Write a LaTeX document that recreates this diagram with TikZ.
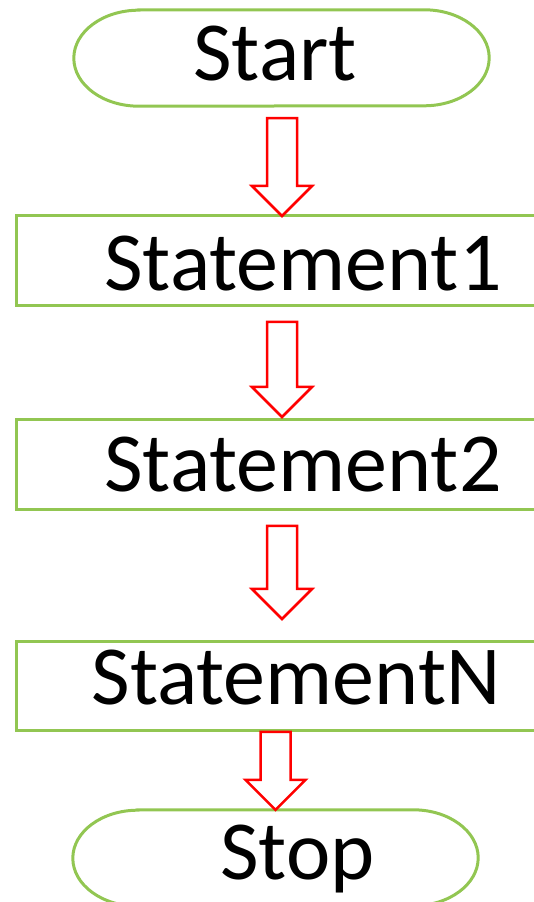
\documentclass[tikz,border=0pt]{standalone}
\usepackage{fontspec}
\setmainfont{Carlito}
\usetikzlibrary{calc}

\definecolor{boxgreen}{RGB}{146,198,82}
\definecolor{arrowred}{RGB}{255,0,0}

\tikzset{
  stepbox/.style={draw=boxgreen, line width=3pt, rectangle, inner sep=0pt,
    minimum width=530pt, minimum height=#1, anchor=north west},
  termframe/.style={rectangle, inner sep=0pt, minimum height=96pt, minimum width=#1},
  outline/.style={draw=boxgreen, line width=3pt},
  caption/.style={font=\fontsize{84}{100}\selectfont, inner sep=0pt, anchor=base},
  flowarrow/.style={draw=arrowred, line width=2.5pt, fill=white, line join=miter},
}

% stadium outline around a terminal frame node
\newcommand\stadium[1]{%
  \draw[outline] ($(#1.north west)+(65pt,0)$) -- ($(#1.north east)+(-65pt,0)$)
    arc[start angle=90, end angle=-90, x radius=65pt, y radius=48pt]
    -- ($(#1.south west)+(65pt,0)$)
    arc[start angle=270, end angle=90, x radius=65pt, y radius=48pt] -- cycle;}

% hollow block arrow: from node, to node, centre x, gap below source, gap above target
\newcommand\blockarrow[5]{%
  \draw[flowarrow] let \p1=(#1.south), \p2=(#2.north) in
    (#3pt-15pt, \y1-#4pt) -- (#3pt+15pt, \y1-#4pt) -- (#3pt+15pt, \y2+#5pt+30pt)
    -- (#3pt+30pt, \y2+#5pt+30pt) -- (#3pt, \y2+#5pt) -- (#3pt-30pt, \y2+#5pt+30pt)
    -- (#3pt-15pt, \y2+#5pt+30pt) -- cycle;}

\begin{document}
\begin{tikzpicture}[x=1pt, y=1pt]
  \useasboundingbox (0,0) rectangle (534,902);
  \clip (0,0) rectangle (534,902);

  % terminals
  \node[termframe=415pt] (start) at (281.5,844) {};
  \node[termframe=405pt] (stop) at (275.5,44) {};
  \stadium{start}
  \stadium{stop}

  % process boxes (run past the right edge)
  \node[stepbox=90pt] (s1) at (15,688) {};
  \node[stepbox=90pt] (s2) at (15,484) {};
  \node[stepbox=89pt] (sn) at (15,262) {};

  % labels
  \node[caption] (tstart) at (275,821) {Start};
  \node[caption] (ts1) at (303,611) {Statement1};
  \node[caption] (ts2) at (303,410) {Statement2};
  \node[caption] (tsn) at (296,197) {StatementN};
  \node[caption] (tstop) at (297.5,23) {Stop};

  % flow arrows
  \blockarrow{start}{s1}{282}{12}{-2}
  \blockarrow{s1}{s2}{282}{15}{1}
  \blockarrow{s2}{sn}{282}{15}{21}
  \blockarrow{sn}{stop}{275.5}{0}{0}
\end{tikzpicture}
\end{document}
